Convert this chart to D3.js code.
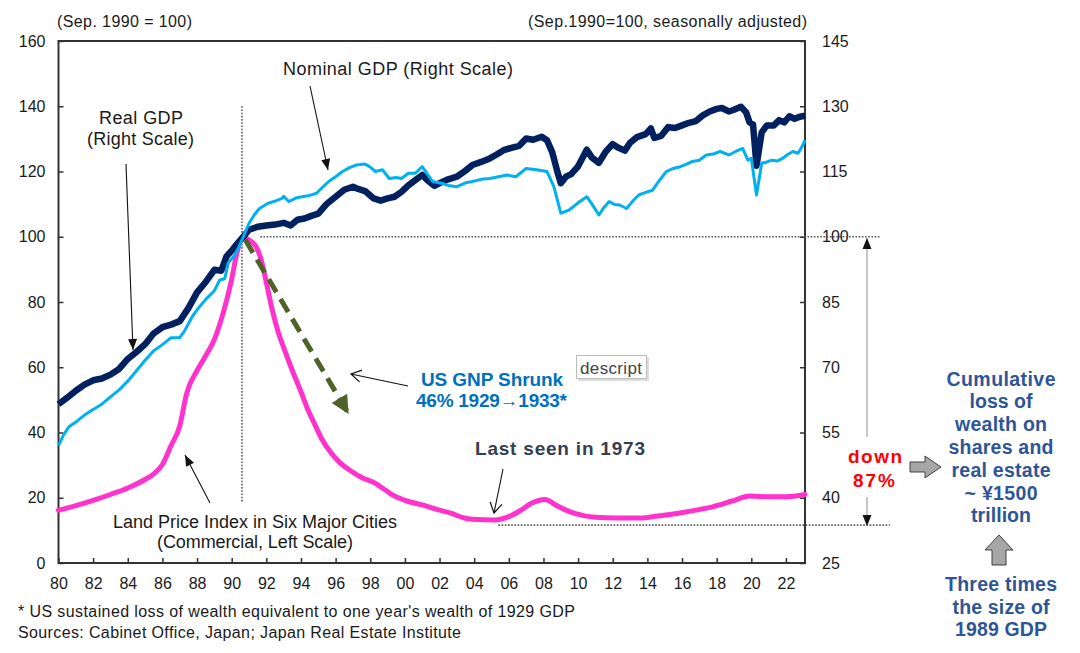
<!DOCTYPE html>
<html><head><meta charset="utf-8">
<script src="https://cdn.jsdelivr.net/npm/d3@7"></script>
<style>body{margin:0;background:#fff}svg{display:block}text{font-family:"Liberation Sans",Arial,sans-serif}</style>
</head><body><svg id="c" width="1080" height="653"></svg>
<script>
// ---- tick labels ----
const leftTicks=[0,20,40,60,80,100,120,140,160];
const rightTicks=[25,40,55,70,85,100,115,130,145];
const yearTicks=d3.range(1980,2023,2);

// ---- Real GDP (right scale, Sep.1990=100) ----
const realGdpYears=[1980.0,1980.5,1981.0,1981.5,1982.0,1982.5,1983.0,1983.5,1984.0,1984.5,1985.0,1985.5,1986.0,1986.5,1987.0,1987.5,1988.0,1988.5,1989.0,1989.4,1989.7,1990.0,1990.3,1990.67,1991.0,1991.5,1992.0,1992.5,1993.0,1993.4,1993.8,1994.2,1994.6,1995.0,1995.5,1996.0,1996.5,1997.0,1997.3,1997.7,1998.2,1998.6,1999.0,1999.4,1999.8,2000.2,2000.6,2001.0,2001.3,2001.7,2002.1,2002.5,2003.0,2003.5,2003.9,2004.4,2004.9,2005.3,2005.7,2006.2,2006.6,2007.0,2007.4,2007.9,2008.2,2008.5,2008.8,2009.0,2009.3,2009.6,2010.0,2010.5,2010.8,2011.2,2011.6,2012.0,2012.3,2012.7,2013.0,2013.4,2013.9,2014.2,2014.4,2014.8,2015.2,2015.6,2016.0,2016.4,2016.8,2017.2,2017.6,2018.0,2018.3,2018.7,2019.0,2019.4,2019.7,2019.9,2020.1,2020.3,2020.6,2020.9,2021.3,2021.6,2021.9,2022.2,2022.5,2022.8,2023.1];
const realGdp=[61.5,63.0,64.6,66.0,67.0,67.4,68.3,69.6,71.9,73.5,75.3,77.8,79.2,79.8,80.6,83.6,87.2,89.6,92.4,92.2,95.5,96.8,98.3,100,101.6,102.3,102.6,102.8,103.2,102.6,103.9,104.2,104.8,105.3,107.6,109.2,110.8,111.5,111.0,110.5,108.8,108.3,108.8,109.2,110.3,111.8,113.0,114.2,113.0,111.7,112.5,113.2,113.8,115.2,116.5,117.2,118.0,118.9,119.9,120.5,120.9,122.6,122.3,123.0,122.2,119.5,115.0,112.3,113.8,114.4,116.2,120.0,118.2,117.0,119.6,121.3,120.5,119.8,121.6,122.9,123.6,124.9,122.7,123.2,125.2,125.0,125.6,126.2,126.6,127.9,128.8,129.4,129.6,128.8,129.2,129.9,128.6,126.3,125.8,116.3,124.0,125.6,125.6,126.8,126.3,127.7,127.1,127.6,127.8];

// ---- Nominal GDP (right scale, Sep.1990=100) ----
const nominalGdpYears=[1980.0,1980.3,1980.6,1981.0,1981.5,1982.0,1982.5,1983.0,1983.5,1984.0,1984.5,1985.0,1985.5,1986.0,1986.5,1987.0,1987.3,1987.7,1988.0,1988.5,1989.0,1989.3,1989.6,1989.8,1990.1,1990.4,1990.67,1991.0,1991.3,1991.6,1992.1,1992.5,1992.9,1993.0,1993.3,1993.7,1994.05,1994.5,1994.9,1995.3,1995.6,1996.0,1996.4,1996.8,1997.2,1997.7,1998.0,1998.3,1998.7,1999.1,1999.5,1999.8,2000.2,2000.6,2001.0,2001.3,2001.6,2002.1,2002.5,2003.0,2003.5,2003.9,2004.4,2004.9,2005.4,2005.9,2006.4,2007.0,2007.6,2008.2,2008.6,2008.9,2009.0,2009.5,2010.0,2010.5,2010.8,2011.2,2011.5,2011.8,2012.1,2012.4,2012.8,2013.2,2013.5,2013.9,2014.3,2014.7,2015.1,2015.5,2015.9,2016.2,2016.6,2017.0,2017.4,2017.8,2018.2,2018.7,2019.1,2019.5,2019.8,2020.0,2020.3,2020.6,2020.9,2021.2,2021.5,2021.8,2022.1,2022.4,2022.7,2022.9,2023.1];
const nominalGdp=[52.0,54.5,56.3,57.4,59.0,60.3,61.5,63.2,64.8,66.8,69.2,71.6,73.8,75.2,76.8,76.8,78.5,81.5,83.2,85.6,87.6,90.0,90.4,94.0,95.4,97.5,100,103.1,105.0,106.5,107.7,108.2,108.8,109.3,108.1,108.9,109.2,109.5,110.0,111.6,112.7,113.8,115.0,115.9,116.5,116.7,116.0,115.0,115.4,113.4,113.6,113.4,114.6,114.6,116.1,114.4,112.7,112.3,111.8,111.5,112.4,112.7,113.2,113.4,113.8,114.2,113.8,115.7,115.4,115.0,111.5,107.0,105.4,106.2,107.8,109.2,107.5,105.0,106.8,108.1,107.4,107.3,106.5,108.4,109.6,110.2,110.7,113.0,115.0,115.7,116.1,116.6,117.3,117.6,118.8,119.0,119.6,118.8,119.6,120.3,117.6,118.0,109.6,116.9,117.2,117.6,117.4,118.0,118.9,119.6,119.2,120.5,122.2];

// ---- Land price index, six major cities, commercial (left scale) ----
const landYears=[1980.0,1981.0,1982.0,1983.0,1984.0,1985.0,1985.5,1986.0,1986.5,1987.0,1987.4,1988.0,1988.5,1989.0,1989.5,1990.0,1990.3,1990.67,1991.0,1991.4,1991.7,1992.0,1992.3,1992.7,1993.0,1993.5,1994.0,1994.4,1994.8,1995.2,1995.7,1996.2,1996.8,1997.5,1998.3,1998.8,1999.3,2000.0,2001.0,2002.0,2002.7,2003.3,2003.9,2005.2,2006.0,2006.7,2007.3,2008.1,2008.7,2009.3,2009.8,2011.0,2012.3,2013.6,2014.6,2015.7,2016.8,2017.8,2018.9,2019.9,2021.0,2022.0,2023.1];
const landPrice=[16.2,17.6,19.2,21.0,23.0,25.6,27.3,30.2,36.0,42.0,52.0,59.0,63.5,68.5,76.5,87.0,95.0,100,99.0,97.0,93.0,86.0,78.5,70.5,66.0,59.0,52.5,47.0,42.5,38.0,34.0,31.0,28.5,26.2,24.4,22.6,20.8,19.2,17.8,16.2,15.2,14.0,13.4,13.2,14.2,16.2,18.3,19.5,17.8,16.2,15.2,14.0,13.8,13.8,14.4,15.2,16.2,17.3,19.0,20.5,20.3,20.3,21.0];

// ---- annotation anchors (data units) ----
const peakPoint=[1990.67,100];
const gnpShrinkEnd=[1996.75,45.7];
const sep1990=1990.59;
const lowLevel=11.6;

const svg=d3.select("#c");
svg.append("rect").attr("width",1080).attr("height",653).attr("fill","#fff");

const x=d3.scaleLinear().domain([1980,2023.1]).range([58.5,805]);
const yL=d3.scaleLinear().domain([0,160]).range([563,41]);
const yR=d3.scaleLinear().domain([25,145]).range([563,41]);

const FONT='"Liberation Sans",Arial,sans-serif';
const defs=svg.append("defs");
function marker(id,w,h,d,fill,stroke){
  const m=defs.append("marker").attr("id",id).attr("viewBox",`0 0 ${w} ${h}`)
    .attr("refX",w).attr("refY",h/2).attr("markerWidth",w).attr("markerHeight",h)
    .attr("markerUnits","userSpaceOnUse").attr("orient","auto").attr("overflow","visible");
  m.append("path").attr("d",d).attr("fill",fill).attr("stroke",stroke||"none").attr("stroke-width",1.2).attr("stroke-linejoin","miter");
}
marker("ah",11,9,"M0,0L11,4.5L0,9Z","#111");
marker("av",10,12,"M0,0L10,6L0,12","none","#111");
marker("ag",18,18,"M0,0L18,9L0,18Z","#4F6228");

function styleAxis(g){
  g.attr("font-family",FONT).attr("font-size",16);
  g.select(".domain").remove();
  g.selectAll(".tick line").attr("stroke","#333").attr("stroke-width",1.5);
  g.selectAll(".tick text").attr("fill","#1a1a1a");
}
svg.append("g").attr("transform","translate(58.5,0)")
  .call(d3.axisLeft(yL).tickValues(leftTicks).tickSizeInner(-5).tickSizeOuter(0).tickPadding(13)).call(styleAxis);
svg.append("g").attr("transform","translate(805,0)")
  .call(d3.axisRight(yR).tickValues(rightTicks).tickSizeInner(-5).tickSizeOuter(0).tickPadding(17)).call(styleAxis);
svg.append("g").attr("transform","translate(0,563)")
  .call(d3.axisBottom(x).tickValues(yearTicks).tickSizeInner(-5).tickSizeOuter(0).tickPadding(15)
  .tickFormat(d=>String(d%100).padStart(2,"0"))).call(styleAxis);

// frame
svg.append("rect").attr("x",x(1980)).attr("y",yL(160)).attr("width",x(2023.1)-x(1980)).attr("height",yL(0)-yL(160))
  .attr("fill","none").attr("stroke","#333").attr("stroke-width",2);

// dotted reference lines
const dot=(x1,y1,x2,y2)=>svg.append("line").attr("x1",x1).attr("y1",y1).attr("x2",x2).attr("y2",y2)
  .attr("stroke","#555").attr("stroke-width",1.6).attr("stroke-dasharray","1.6,1.6");
dot(x(sep1990),yL(140),x(sep1990),yL(18.7)).attr("stroke","#777").attr("stroke-width",2);
dot(x(1991.65),yL(100),x(2027.45),yL(100));
dot(x(2005.4),yL(lowLevel),x(2028.0),yL(lowLevel));

// series
const zip=(a,b)=>a.map((t,i)=>[t,b[i]]);
svg.append("path").datum(zip(landYears,landPrice)).attr("fill","none").attr("stroke","#FF33CC").attr("stroke-width",5)
  .attr("stroke-linejoin","round").attr("stroke-linecap","round")
  .attr("d",d3.line().x(d=>x(d[0])).y(d=>yL(d[1])).curve(d3.curveMonotoneX));
svg.append("path").datum(zip(realGdpYears,realGdp)).attr("fill","none").attr("stroke","#002060").attr("stroke-width",6.5)
  .attr("stroke-linejoin","round").attr("d",d3.line().x(d=>x(d[0])).y(d=>yR(d[1])));
svg.append("path").datum(zip(nominalGdpYears,nominalGdp)).attr("fill","none").attr("stroke","#00B0F0").attr("stroke-width",3)
  .attr("stroke-linejoin","round").attr("d",d3.line().x(d=>x(d[0])).y(d=>yR(d[1])));

// green dashed arrow
svg.append("line").attr("x1",x(peakPoint[0])+2).attr("y1",yL(peakPoint[1])+3)
  .attr("x2",x(gnpShrinkEnd[0])).attr("y2",yL(gnpShrinkEnd[1]))
  .attr("stroke","#4F6228").attr("stroke-width",5).attr("stroke-dasharray","15,8").attr("marker-end","url(#ag)");

// thin arrows
const arrow=(x1,y1,x2,y2,m,col)=>svg.append("line").attr("x1",x1).attr("y1",y1).attr("x2",x2).attr("y2",y2)
  .attr("stroke",col||"#111").attr("stroke-width",1.1).attr("marker-end",`url(#${m})`);
arrow(126,164,133,350,"ah");
arrow(310,86,328,170,"ah");
arrow(210,503,185,455,"ah");
arrow(408,386,351,374,"av");
arrow(503,469,494,513,"av");
arrow(867,437,867,238,"ah","#999");
arrow(867,497,867,526,"ah","#999");

// text helper
function txt(x0,y0,s,o={}){
  const t=svg.append("text").attr("x",x0).attr("y",y0).text(s)
    .attr("font-family",FONT).attr("font-size",o.size||18).attr("font-weight",o.weight||"normal")
    .attr("fill",o.fill||"#1a1a1a");
  if(o.len){t.attr("textLength",o.len).attr("lengthAdjust","spacing");}
  if(o.anchor)t.attr("text-anchor",o.anchor);
  return t;
}
txt(57,27,"(Sep. 1990 = 100)",{size:16,len:135});
txt(528,27,"(Sep.1990=100,  seasonally adjusted)",{size:16,len:279});
txt(283,75,"Nominal GDP (Right Scale)",{size:18,len:230});
txt(99,124,"Real GDP",{size:18,len:84});
txt(87,145,"(Right Scale)",{size:18,len:107});
txt(113,528,"Land Price Index in Six Major Cities",{size:18,len:284});
txt(157,548,"(Commercial, Left Scale)",{size:18,len:196});
txt(421,386,"US GNP Shrunk",{size:19,weight:"bold",fill:"#0070C0",len:142});
txt(416,407,"46% 1929\u21921933*",{size:19,weight:"bold",fill:"#0070C0",len:151});
txt(475,455,"Last seen in 1973",{size:19,weight:"bold",fill:"#333F50",len:170});
txt(18,617,"* US sustained loss of wealth equivalent  to one year's wealth of 1929 GDP",{size:16,len:557});
txt(18,638,"Sources: Cabinet Office, Japan; Japan Real Estate Institute",{size:16,len:443});

// descript tooltip box
svg.append("rect").attr("x",578).attr("y",357).attr("width",71).attr("height",24).attr("fill","#ddd");
svg.append("rect").attr("x",576.5).attr("y",355.5).attr("width",70).attr("height",23).attr("fill","#fff").attr("stroke","#bbb");
txt(580,374,"descript",{size:17,fill:"#444",len:62});

// right side
txt(848,463,"down",{size:19,weight:"bold",fill:"#FF0000",len:54});
txt(853,487,"87%",{size:19,weight:"bold",fill:"#FF0000",len:42});
svg.append("path").attr("d","M910,462L925,462L925,456L941,467L925,478L925,472L910,472Z")
  .attr("fill","#A6A6A6").attr("stroke","#404040").attr("stroke-width",1);
svg.append("path").attr("d","M992,565L992,550L985,550L999,535L1013,550L1006,550L1006,565Z")
  .attr("fill","#A6A6A6").attr("stroke","#404040").attr("stroke-width",1);
const blue="#2E5597";
const rightLines=[["Cumulative",109,386],["loss of",63,408],["wealth on",92,431],["shares and",105,454],["real estate",99,477],["~ \u00a51500",73,500],["trillion",60,522],["Three times",112,591],["the size of",97,614],["1989 GDP",92,636]];
rightLines.forEach(([s,l,yy])=>txt(1001-l/2,yy,s,{size:19.5,weight:"bold",fill:blue,len:l}));
</script></body></html>
